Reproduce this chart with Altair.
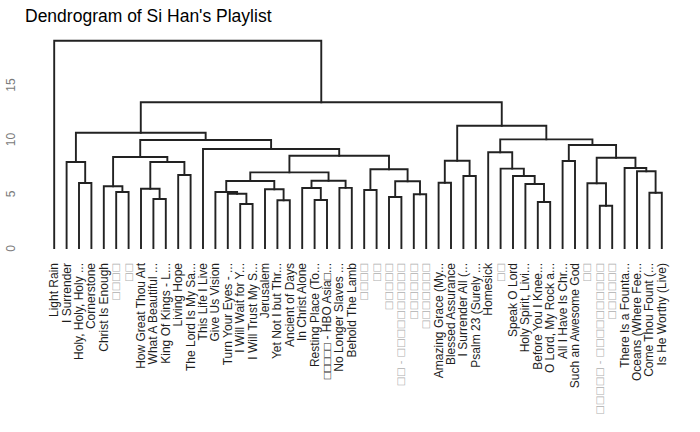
import altair as alt
import pandas as pd

# Leaf labels, left to right
labels = [
    "Light Rain", "I Surrender", "Holy, Holy, Holy ...", "Cornerstone",
    "Christ Is Enough", "□□□□", "□□", "How Great Thou Art",
    "What A Beautiful ...", "King Of Kings - L...", "Living Hope",
    "The Lord Is My Sa...", "This Life I Live", "Give Us Vision",
    "Turn Your Eyes - ...", "I Will Wait for Y...", "I Will Trust My S...",
    "Jerusalem", "Yet Not I but Thr...", "Ancient of Days", "In Christ Alone",
    "Resting Place (To...", "□□□□□ - HBO Asia□...", "No Longer Slaves ...",
    "Behold The Lamb", "□□□□", "□□", "□□□□□", "□□ - □□□□□□□□□□",
    "□□□□□□", "□□□□□□□", "Amazing Grace (My...", "Blessed Assurance",
    "I Surrender All (...", "Psalm 23 (Surely ...", "Homesick", "□□",
    "Speak O Lord", "Holy Spirit, Livi...", "Before You I Knee...",
    "O Lord, My Rock a...", "All I Have Is Chr...", "Such an Awesome God",
    "□□", "□□□□□ - □□□□□□□□□□", "□□□□□□", "There Is a Founta...",
    "Oceans (Where Fee...", "Come Thou Fount (...", "Is He Worthy (Live)",
]

# Merge table (hclust style): negative = leaf number, positive = earlier merge
merge_a = [-16, -15, -14, -19, -18, 3, -22, -21, -24, 8, 6, -26, -28, -30, 13,
           12, 11, -13, -6, -5, -9, -8, -11, 22, 20, 25, -3, -2, 28, -32, -34,
           30, -40, -39, -38, -37, -36, -42, -45, -44, -49, -48, -47, 40, 38,
           37, 32, 29, -1]
merge_b = [-17, 1, 2, -20, 4, 5, -23, 7, -25, 9, 10, -27, -29, -31, 14,
           15, 16, 17, -7, 19, -10, 21, -12, 23, 24, 18, -4, 27, 26, -33, -35,
           31, -41, 33, 34, 35, 36, -43, -46, 39, -50, 41, 42, 43, 44,
           45, 46, 47, 48]
merge_h = [4.04, 4.98, 5.14, 4.38, 5.39, 6.15, 4.40, 5.50, 5.52, 6.17, 6.94,
           5.32, 4.68, 4.93, 6.12, 7.22, 8.47, 9.08, 5.14, 5.66, 4.50, 5.44,
           6.70, 7.89, 8.35, 9.91, 5.96, 7.89, 10.58, 5.99, 6.61, 8.01, 4.22,
           5.87, 6.61, 7.28, 8.78, 7.98, 3.88, 5.94, 5.07, 7.04, 7.34, 8.28,
           9.45, 9.97, 11.22, 13.37, 19.02]

pos = {}


def child(c):
    if c < 0:
        return float(-c), 0.0
    return pos[c]


rows = []
for i, (a, b, h) in enumerate(zip(merge_a, merge_b, merge_h), start=1):
    xa, ha = child(a)
    xb, hb = child(b)
    pos[i] = ((xa + xb) / 2.0, h)
    for k, (x, y) in enumerate([(xa, ha), (xa, h), (xb, h), (xb, hb)]):
        rows.append({"node": i, "k": k, "x": x, "h": y})

seg = pd.DataFrame(rows)
is_box = [l.startswith("□") and "HBO" not in l for l in labels]
lab = pd.DataFrame({
    "idx": list(range(1, len(labels) + 1)),
    "label": labels,
    "box": is_box,
})

xscale = alt.Scale(domain=[0.5, 50.5], nice=False, zero=False)
yscale = alt.Scale(domain=[-0.1835, 19.817], nice=False, zero=False)

lines = alt.Chart(seg).mark_line(
    color="#222222", strokeWidth=1.9, strokeJoin="miter", strokeCap="square"
).encode(
    x=alt.X("x:Q", scale=xscale, axis=None),
    y=alt.Y("h:Q", scale=yscale, title=None,
            axis=alt.Axis(values=[0, 5, 10, 15], domain=False, ticks=False,
                          tickSize=0, grid=False, labelAngle=270,
                          labelAlign="center", labelBaseline="bottom",
                          labelPadding=31, labelFont="Liberation Sans",
                          labelFontSize=12, labelColor="#7a7a7a")),
    detail="node:N",
    order="k:Q",
)

texts = alt.Chart(lab).transform_filter("!datum.box").mark_text(
    angle=270, align="right", baseline="middle", font="Liberation Sans",
    fontSize=12, color="#1e1e1e"
).encode(
    x=alt.X("idx:Q", scale=xscale, axis=None),
    y=alt.value(231),
    text="label:N",
)

boxes = alt.Chart(lab).transform_filter("datum.box").mark_text(
    angle=270, align="right", baseline="middle", font="DejaVu Sans",
    fontSize=10, color="#b0b0b0"
).encode(
    x=alt.X("idx:Q", scale=xscale, axis=None),
    y=alt.value(231),
    text="label:N",
)

chart = alt.layer(lines, texts, boxes).properties(
    width=620,
    height=218,
    autosize=alt.AutoSizeParams(type="none"),
    padding={"left": 48, "top": 32, "right": 32, "bottom": 182},
    title=alt.TitleParams("Dendrogram of Si Han's Playlist", anchor="start",
                          frame="group", font="Liberation Sans", fontSize=17.5,
                          fontWeight="normal", color="black", dx=-23, dy=-3),
).configure_view(stroke=None)

chart.save("out.html", embed_options={"renderer": "svg", "actions": False})
